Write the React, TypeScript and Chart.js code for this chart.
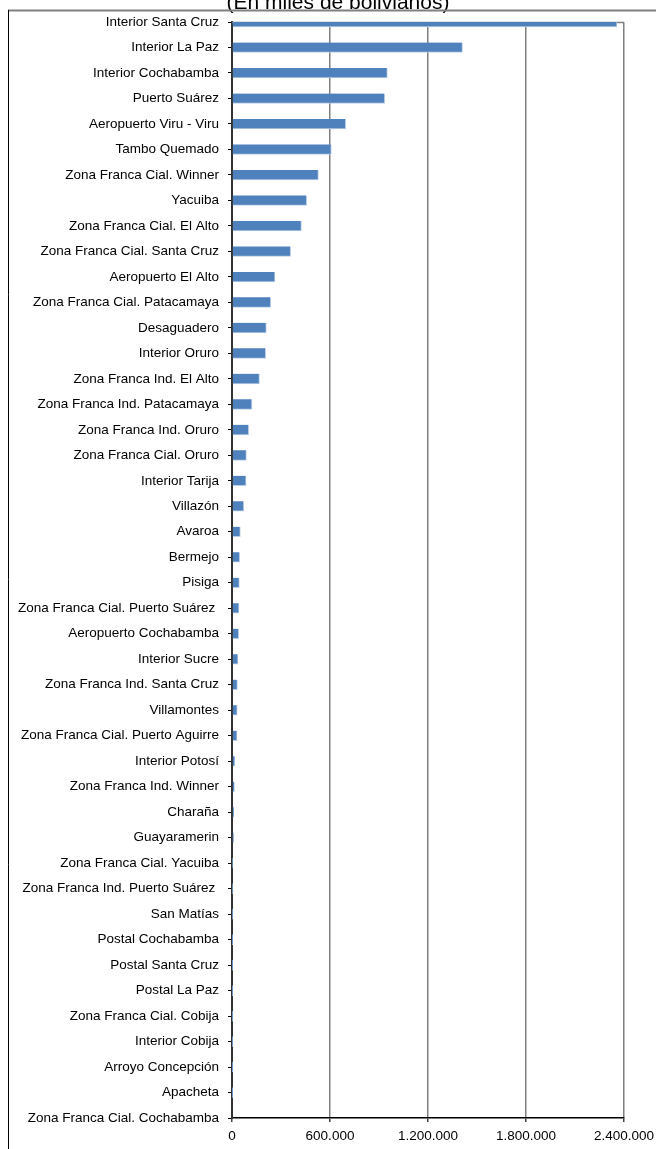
import React, { useEffect, useRef } from "react";
import { Chart, registerables } from "chart.js";

Chart.register(...registerables);

const categories: string[] = [
  "Interior Santa Cruz",
  "Interior La Paz",
  "Interior Cochabamba",
  "Puerto Suárez",
  "Aeropuerto Viru - Viru",
  "Tambo Quemado",
  "Zona Franca Cial. Winner",
  "Yacuiba",
  "Zona Franca Cial. El Alto",
  "Zona Franca Cial. Santa Cruz",
  "Aeropuerto El Alto",
  "Zona Franca Cial. Patacamaya",
  "Desaguadero",
  "Interior Oruro",
  "Zona Franca Ind. El Alto",
  "Zona Franca Ind. Patacamaya",
  "Zona Franca Ind. Oruro",
  "Zona Franca Cial. Oruro",
  "Interior Tarija",
  "Villazón",
  "Avaroa",
  "Bermejo",
  "Pisiga",
  "Zona Franca Cial. Puerto Suárez ",
  "Aeropuerto Cochabamba",
  "Interior Sucre",
  "Zona Franca Ind. Santa Cruz",
  "Villamontes",
  "Zona Franca Cial. Puerto Aguirre",
  "Interior Potosí",
  "Zona Franca Ind. Winner",
  "Charaña",
  "Guayaramerin",
  "Zona Franca Cial. Yacuiba",
  "Zona Franca Ind. Puerto Suárez ",
  "San Matías",
  "Postal Cochabamba",
  "Postal Santa Cruz",
  "Postal La Paz",
  "Zona Franca Cial. Cobija",
  "Interior Cobija",
  "Arroyo Concepción",
  "Apacheta",
  "Zona Franca Cial. Cochabamba",
];

const values: number[] = [
  2357000, 1411000, 951000, 935000, 696000, 608000, 529000, 457000, 425000,
  359000, 263000, 237000, 210000, 206000, 168000, 122000, 102000, 88000, 86000,
  72000, 51000, 47000, 45000, 43000, 41000, 37000, 33000, 32000, 31000, 18000,
  15000, 11000, 9000, 2000, 1500, 800, 500, 400, 300, 200, 150, 100, 50, 0,
];

const xTicks: number[] = [0, 600000, 1200000, 1800000, 2400000];
const titleText = "(En miles de bolivianos)";

const FONT = '"Liberation Sans", Arial, sans-serif';

const fmt = (v: number) =>
  String(Math.round(v)).replace(/\B(?=(\d{3})+(?!\d))/g, ".");

const framePlugin = {
  id: "frame",
  beforeDraw(chart: any) {
    const ctx = chart.ctx;
    ctx.save();
    ctx.fillStyle = "#ffffff";
    ctx.fillRect(0, 0, chart.width, chart.height);
    // title (cut at top)
    ctx.fillStyle = "#000000";
    ctx.font = `21px ${FONT}`;
    ctx.textAlign = "center";
    ctx.textBaseline = "alphabetic";
    ctx.fillText(titleText, 338, 8.5);
    // outer frame
    ctx.strokeStyle = "#808080";
    ctx.lineWidth = 2;
    ctx.beginPath();
    ctx.moveTo(8, 10.5);
    ctx.lineTo(chart.width, 10.5);
    ctx.stroke();
    ctx.strokeStyle = "#000000";
    ctx.lineWidth = 1;
    ctx.beginPath();
    ctx.moveTo(8.5, 10);
    ctx.lineTo(8.5, chart.height);
    ctx.stroke();
    ctx.restore();
  },
  beforeDatasetsDraw(chart: any) {
    const { ctx, chartArea } = chart;
    ctx.save();
    ctx.strokeStyle = "#808080";
    ctx.lineWidth = 1.5;
    ctx.beginPath();
    ctx.moveTo(chartArea.left, chartArea.top + 0.5);
    ctx.lineTo(chartArea.right, chartArea.top + 0.5);
    ctx.stroke();
    ctx.restore();
  },
};

export default function App() {
  const ref = useRef<HTMLCanvasElement | null>(null);

  useEffect(() => {
    if (!ref.current) return;
    const chart = new Chart(ref.current, {
      type: "bar",
      data: {
        labels: categories,
        datasets: [
          {
            data: values,
            backgroundColor: "#4f81bd",
            borderColor: "#b9cde5",
            borderWidth: { top: 0, left: 0, right: 1, bottom: 1 } as any,
            borderSkipped: false,
            barThickness: 10,
            clip: 0 as any,
          },
        ],
      },
      options: {
        indexAxis: "y",
        animation: false,
        responsive: false,
        devicePixelRatio: 1,
        layout: { padding: { left: 0, top: 22, right: 32, bottom: 0 } },
        plugins: {
          legend: { display: false },
          title: { display: false },
          tooltip: { enabled: false },
        },
        scales: {
          x: {
            type: "linear",
            min: 0,
            max: 2400000,
            afterBuildTicks: (scale: any) => {
              scale.ticks = xTicks.map((v) => ({ value: v }));
            },
            afterFit: (scale: any) => {
              scale.height = 31;
              scale.paddingLeft = 0;
              scale.paddingRight = 0;
            },
            ticks: {
              color: "#000000",
              font: { family: FONT, size: 13.5 },
              padding: 6,
              maxRotation: 0,
              callback: (v: any) => fmt(Number(v)),
            },
            grid: {
              color: "#808080",
              lineWidth: 1.5,
              tickLength: 4,
              tickColor: "#404040",
              drawTicks: true,
            },
            border: { display: true, color: "#000000", width: 1.5 },
          },
          y: {
            type: "category",
            offset: false,
            afterFit: (scale: any) => {
              scale.width = 232;
              scale.paddingTop = 0;
              scale.paddingBottom = 0;
            },
            ticks: {
              color: "#000000",
              font: { family: FONT, size: 13.5 },
              padding: 9,
              autoSkip: false,
            },
            grid: {
              offset: false,
              drawOnChartArea: false,
              drawTicks: true,
              tickLength: 4,
              color: "#000000",
              lineWidth: 1,
            },
            border: { display: true, color: "#333333", width: 2 },
          },
        },
      },
      plugins: [framePlugin],
    });
    return () => chart.destroy();
  }, []);

  return (
    <div
      style={{
        position: "fixed",
        left: 0,
        top: 0,
        width: 656,
        height: 1149,
        overflow: "hidden",
        background: "#ffffff",
      }}
    >
      <canvas
        ref={ref}
        width={656}
        height={1149}
        style={{ display: "block", width: 656, height: 1149 }}
      />
    </div>
  );
}
